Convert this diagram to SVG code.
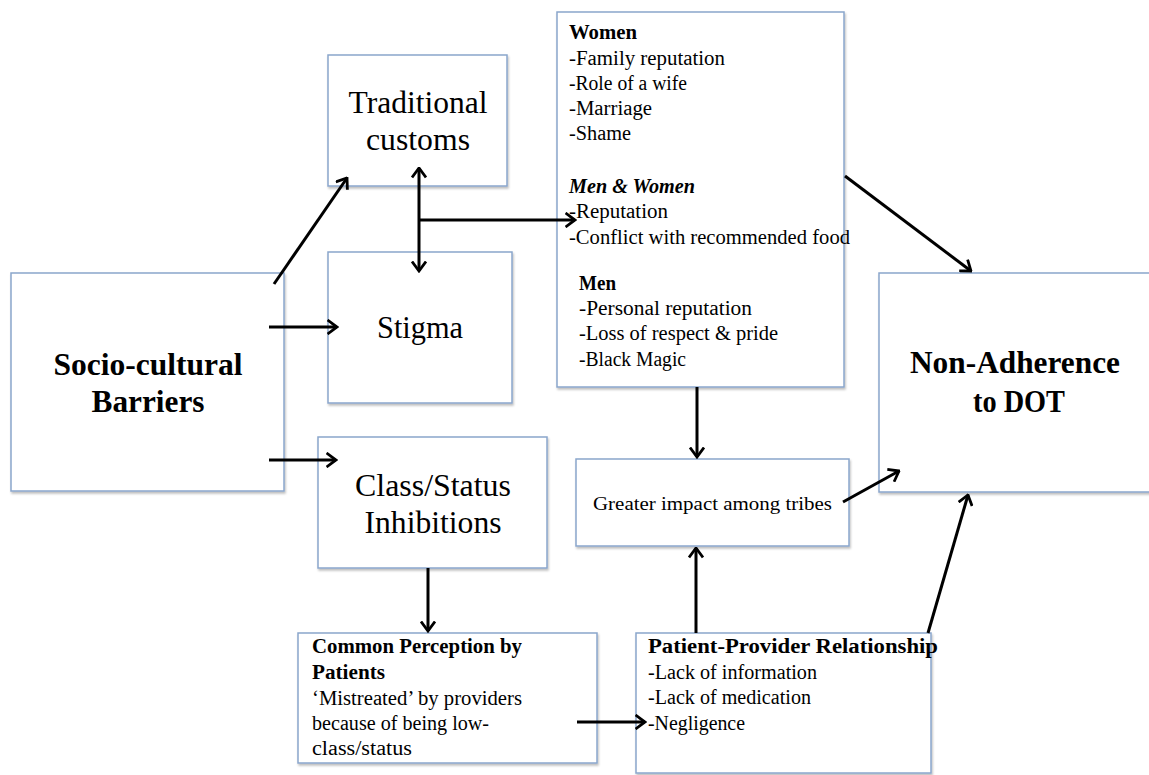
<svg xmlns="http://www.w3.org/2000/svg" width="1149" height="775" viewBox="0 0 1149 775">
<style>
.box{fill:#ffffff;stroke:#8aa6cc;stroke-width:1.5;filter:url(#sh)}
text{font-family:"Liberation Serif","Times New Roman",serif;fill:#000}
.big{font-size:31px}
.bigb{font-size:31px;font-weight:bold}
.sm{font-size:20px}
.smb{font-size:20px;font-weight:bold}
.mid{font-size:19px}
.c{text-anchor:middle}
.con{stroke:#000;stroke-width:3;fill:none;marker-end:url(#ah)}
</style>
<defs>
<filter id="sh" x="-5%" y="-5%" width="110%" height="110%">
<feDropShadow dx="1" dy="2" stdDeviation="1" flood-color="#000" flood-opacity="0.25"/>
</filter>
<marker id="ah" viewBox="0 0 12 16" refX="10.5" refY="8" markerWidth="12" markerHeight="16" markerUnits="userSpaceOnUse" orient="auto-start-reverse">
<path d="M1,1 L10.5,8 L1,15" fill="none" stroke="#000" stroke-width="2.8"/>
</marker>
</defs>
<rect width="1149" height="775" fill="#ffffff"/>

<g id="socio">
<rect class="box" x="11" y="273" width="273" height="218"/>
<text class="bigb c" x="148" y="375" textLength="189" lengthAdjust="spacingAndGlyphs">Socio-cultural</text>
<text class="bigb c" x="148" y="412" textLength="113" lengthAdjust="spacingAndGlyphs">Barriers</text>
</g>

<g id="traditional">
<rect class="box" x="328" y="55" width="179" height="131"/>
<text class="big c" x="418" y="113" textLength="139" lengthAdjust="spacingAndGlyphs">Traditional</text>
<text class="big c" x="418" y="150" textLength="104" lengthAdjust="spacingAndGlyphs">customs</text>
</g>

<g id="stigma">
<rect class="box" x="328" y="252" width="184" height="151"/>
<text class="big c" x="420" y="338" textLength="86" lengthAdjust="spacingAndGlyphs">Stigma</text>
</g>

<g id="class">
<rect class="box" x="318" y="437" width="229" height="131"/>
<text class="big c" x="433" y="496" textLength="156" lengthAdjust="spacingAndGlyphs">Class/Status</text>
<text class="big c" x="433" y="533" textLength="137" lengthAdjust="spacingAndGlyphs">Inhibitions</text>
</g>

<g id="factors">
<rect class="box" x="557" y="12" width="287" height="375"/>
<text class="smb" x="569" y="39" textLength="68" lengthAdjust="spacingAndGlyphs">Women</text>
<text class="sm" x="569" y="65" textLength="156" lengthAdjust="spacingAndGlyphs">-Family reputation</text>
<text class="sm" x="569" y="90" textLength="118" lengthAdjust="spacingAndGlyphs">-Role of a wife</text>
<text class="sm" x="569" y="115" textLength="83" lengthAdjust="spacingAndGlyphs">-Marriage</text>
<text class="sm" x="569" y="140" textLength="62" lengthAdjust="spacingAndGlyphs">-Shame</text>
<text class="smb" x="569" y="193" font-style="italic" textLength="126" lengthAdjust="spacingAndGlyphs">Men &amp; Women</text>
<text class="sm" x="569" y="218" textLength="99" lengthAdjust="spacingAndGlyphs">-Reputation</text>
<text class="sm" x="569" y="244" textLength="281" lengthAdjust="spacingAndGlyphs">-Conflict with recommended food</text>
<text class="smb" x="579" y="290" textLength="37" lengthAdjust="spacingAndGlyphs">Men</text>
<text class="sm" x="579" y="315" textLength="173" lengthAdjust="spacingAndGlyphs">-Personal reputation</text>
<text class="sm" x="579" y="340" textLength="199" lengthAdjust="spacingAndGlyphs">-Loss of respect &amp; pride</text>
<text class="sm" x="579" y="366" textLength="107" lengthAdjust="spacingAndGlyphs">-Black Magic</text>
</g>

<g id="greater">
<rect class="box" x="576" y="459" width="273" height="87"/>
<text class="mid" x="593" y="510" textLength="239" lengthAdjust="spacingAndGlyphs">Greater impact among tribes</text>
</g>

<g id="nonadherence">
<rect class="box" x="879" y="273" width="280" height="219"/>
<text class="bigb c" x="1015" y="373" textLength="210" lengthAdjust="spacingAndGlyphs">Non-Adherence</text>
<text class="bigb c" x="1019" y="412" textLength="92" lengthAdjust="spacingAndGlyphs">to DOT</text>
</g>

<g id="perception">
<rect class="box" x="298" y="633" width="299" height="130"/>
<text class="smb" x="312" y="653" textLength="210" lengthAdjust="spacingAndGlyphs">Common Perception by</text>
<text class="smb" x="312" y="679" textLength="73" lengthAdjust="spacingAndGlyphs">Patients</text>
<text class="sm" x="312" y="705" textLength="210" lengthAdjust="spacingAndGlyphs">‘Mistreated’ by providers</text>
<text class="sm" x="312" y="730" textLength="177" lengthAdjust="spacingAndGlyphs">because of being low-</text>
<text class="sm" x="312" y="755" textLength="100" lengthAdjust="spacingAndGlyphs">class/status</text>
</g>

<g id="relationship">
<rect class="box" x="636" y="633" width="295" height="140"/>
<text class="smb" x="648" y="653" textLength="290" lengthAdjust="spacingAndGlyphs">Patient-Provider Relationship</text>
<text class="sm" x="648" y="679" textLength="169" lengthAdjust="spacingAndGlyphs">-Lack of information</text>
<text class="sm" x="648" y="704" textLength="163" lengthAdjust="spacingAndGlyphs">-Lack of medication</text>
<text class="sm" x="648" y="730" textLength="97" lengthAdjust="spacingAndGlyphs">-Negligence</text>
</g>

<g id="connectors">
<line class="con" x1="274" y1="284" x2="347" y2="178"/>
<line class="con" x1="269" y1="327" x2="337" y2="327"/>
<line class="con" x1="269" y1="460" x2="336" y2="460"/>
<line class="con" x1="419" y1="168" x2="419" y2="271" style="marker-start:url(#ah)"/>
<line class="con" x1="419" y1="220" x2="575" y2="220"/>
<line class="con" x1="845" y1="176" x2="971" y2="271"/>
<line class="con" x1="697" y1="387" x2="697" y2="457"/>
<line class="con" x1="696" y1="633" x2="696" y2="548"/>
<line class="con" x1="843" y1="502" x2="899" y2="471"/>
<line class="con" x1="928" y1="633" x2="968" y2="495"/>
<line class="con" x1="428" y1="568" x2="428" y2="631"/>
<line class="con" x1="577" y1="722" x2="645" y2="722"/>
</g>
</svg>
